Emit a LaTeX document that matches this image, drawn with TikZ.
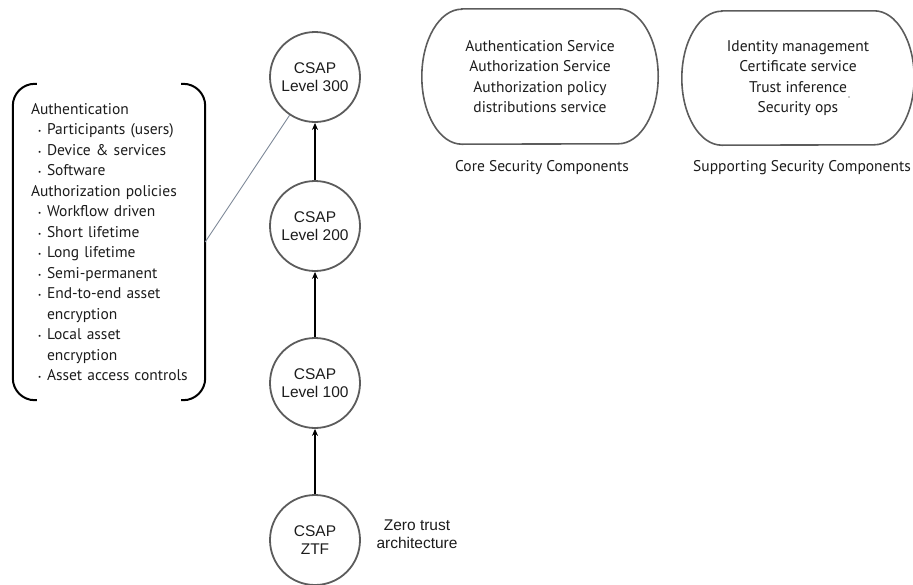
\documentclass[tikz,border=0pt]{standalone}
\usepackage{fontspec}
\setmainfont{Liberation Sans}
\newfontfamily\dinfont{PT Sans}
\usetikzlibrary{arrows.meta}
\definecolor{ink}{HTML}{1C1C1C}
\definecolor{ringgray}{HTML}{5C5C5C}
\definecolor{leadergray}{HTML}{7F8A99}
% list helpers: bulleted line and continuation line
\newcommand\itm{\hspace*{7pt}\makebox[9pt][l]{\raisebox{1pt}{\fontsize{7}{7}\selectfont •}}}
\newcommand\cnt{\hspace*{16pt}}
% stadium-like outline around a node, with elliptical ends
\newcommand\drawpill[3]{% node, end x radius, half height
  \draw[pillline] ([xshift=#2]#1.north west) -- ([xshift=-#2]#1.north east)
    arc[start angle=90,end angle=-90,x radius=#2,y radius=#3]
    -- ([xshift=#2]#1.south west)
    arc[start angle=270,end angle=90,x radius=#2,y radius=#3] -- cycle;}
\begin{document}
\begin{tikzpicture}[x=1pt,y=-1pt,
  level/.style={circle, draw=ringgray, line width=1.8pt, minimum size=90pt,
    inner sep=0pt, align=center, text=ink, font=\fontsize{15.5}{18}\selectfont},
  uparrow/.style={black, line width=1.6pt, -{Stealth[length=7pt,width=6pt]}},
  din/.style={text=ink, font=\dinfont\fontsize{15.5}{20.5}\selectfont},
  pillline/.style={draw=ringgray, line width=1.6pt},
  bracketline/.style={black, line width=2pt, rounded corners=22pt},
  leader/.style={leadergray, line width=0.9pt}]
\useasboundingbox (0,0) rectangle (913,584);

% CSAP levels
\node[level] (l300) at (315,77)  {CSAP\\Level 300};
\node[level] (l200) at (315,226) {CSAP\\Level 200};
\node[level] (l100) at (315,383) {CSAP\\Level 100};
\node[level] (ztf)  at (315,540) {CSAP\\ZTF};
\node[align=center, text=ink, font=\fontsize{15.5}{18}\selectfont] (zta) at (417,534)
  {Zero trust\\architecture};

\draw[uparrow] (ztf) -- (l100);
\draw[uparrow] (l100) -- (l200);
\draw[uparrow] (l200) -- (l300);

% capability list in brackets
\node[din, align=left, text width=156pt, inner xsep=18pt, inner ysep=0pt,
  minimum height=316pt] (list) at (109,242) {%
Authentication\\
\itm Participants (users)\\
\itm Device \& services\\
\itm Software\\
Authorization policies\\
\itm Workflow driven\\
\itm Short lifetime\\
\itm Long lifetime\\
\itm Semi-permanent\\
\itm End-to-end asset\\
\cnt encryption\\
\itm Local asset\\
\cnt encryption\\
\itm \mbox{Asset access controls}};
\draw[bracketline] ([xshift=24pt]list.north west) -- (list.north west)
  -- (list.south west) -- ([xshift=24pt]list.south west);
\draw[bracketline] ([xshift=-24pt]list.north east) -- (list.north east)
  -- (list.south east) -- ([xshift=-24pt]list.south east);
\draw[leader] (list.east) -- (l300);

% security component groups
\node[din, align=center, minimum width=236pt, minimum height=135pt] (core) at (540,76.5)
  {Authentication Service\\Authorization Service\\Authorization policy\\distributions service};
\drawpill{core}{40pt}{67.5pt}
\node[din] (corelbl) at (542,168) {Core Security Components};

\node[din, align=center, minimum width=232pt, minimum height=134pt] (supp) at (798,78)
  {Identity management\\Certificate service\\Trust inference\\Security ops};
\drawpill{supp}{40pt}{67pt}
\node[din] (supplbl) at (802,168) {Supporting Security Components};
\fill[ink] (849,97) circle (0.6pt);
\end{tikzpicture}
\end{document}
